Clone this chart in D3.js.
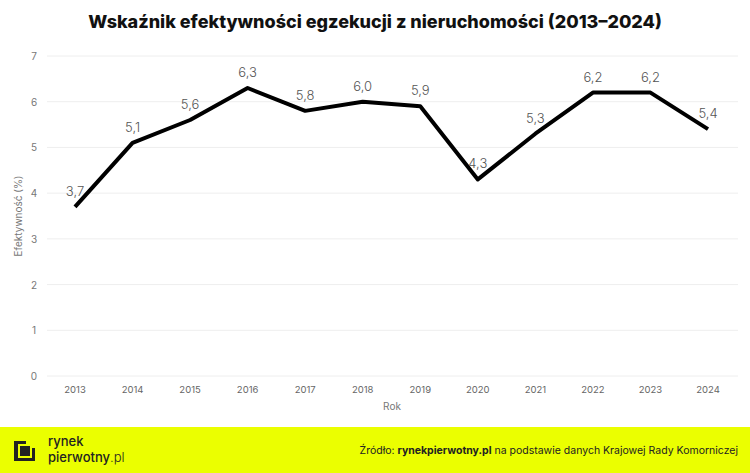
<!DOCTYPE html>
<html><head><meta charset="utf-8">
<script src="https://cdn.jsdelivr.net/npm/d3@7"></script>
<style>body{margin:0;background:#fff;font-family:Inter,"Open Sans",sans-serif}</style>
</head><body><div id="chart"></div>
<script>
const years = ["2013","2014","2015","2016","2017","2018","2019","2020","2021","2022","2023","2024"];
const values = [3.7, 5.1, 5.6, 6.3, 5.8, 6.0, 5.9, 4.3, 5.3, 6.2, 6.2, 5.4];
const yTicks = [0, 1, 2, 3, 4, 5, 6, 7];

const width = 750, height = 473;
const svg = d3.select("#chart").append("svg").attr("width", width).attr("height", height);

svg.append("text").attr("x", width / 2).attr("y", 28).attr("text-anchor", "middle")
  .attr("font-size", 18).attr("font-weight", 800).attr("fill", "#111")
  .text("Wskaźnik efektywności egzekucji z nieruchomości (2013–2024)");

const x = d3.scalePoint().domain(years).range([75, 708]);
const y = d3.scaleLinear().domain([0, 7]).range([376, 56]);

svg.append("g").selectAll("line").data(yTicks).join("line")
  .attr("x1", 47).attr("x2", 738).attr("y1", d => y(d)).attr("y2", d => y(d))
  .attr("stroke", "#eee");

svg.append("g").selectAll("text").data(yTicks).join("text")
  .attr("x", 34).attr("y", d => y(d) + 4).attr("text-anchor", "middle")
  .attr("font-size", 10).attr("fill", "#777").text(d => d);

svg.append("g").selectAll("text").data(years).join("text")
  .attr("x", d => x(d)).attr("y", 393).attr("text-anchor", "middle")
  .attr("font-size", 9.5).attr("fill", "#666").text(d => d);

svg.append("text").attr("x", 392).attr("y", 410).attr("text-anchor", "middle")
  .attr("font-size", 10).attr("fill", "#777").text("Rok");
svg.append("text").attr("transform", "translate(22,216) rotate(-90)").attr("text-anchor", "middle")
  .attr("font-size", 10).attr("fill", "#777").text("Efektywność (%)");

const line = d3.line().x((d, i) => x(years[i])).y(d => y(d));
svg.append("path").datum(values).attr("d", line).attr("fill", "none")
  .attr("stroke", "#000").attr("stroke-width", 4).attr("stroke-linejoin", "round");

svg.append("g").selectAll("text").data(values).join("text")
  .attr("x", (d, i) => x(years[i])).attr("y", d => y(d) - 11).attr("text-anchor", "middle")
  .attr("font-size", 13).attr("font-weight", 300).attr("fill", "#555").text(d => d.toFixed(1).replace(".", ","));

// footer
svg.append("rect").attr("x", 0).attr("y", 427).attr("width", width).attr("height", 46).attr("fill", "#ebff00");
svg.append("path").attr("d", "M14,441 L26,441 L26,444 L18,444 L18,458 L32,458 L32,448 L35,448 L35,461 L14,461 Z M20,446 L30,446 L30,456 L20,456 Z")
  .attr("fill", "#222").attr("fill-rule", "evenodd");
svg.append("text").attr("x", 48).attr("y", 446).attr("font-size", 13).attr("fill", "#222").attr("font-weight", 500).text("rynek");
const t2 = svg.append("text").attr("x", 48).attr("y", 462).attr("font-size", 13).attr("fill", "#222").attr("font-weight", 500);
t2.append("tspan").text("pierwotny");
t2.append("tspan").attr("font-weight", 300).text(".pl");
const src = svg.append("text").attr("x", 738).attr("y", 454).attr("text-anchor", "end").attr("font-size", 10.5).attr("fill", "#222");
src.append("tspan").text("Źródło: ");
src.append("tspan").attr("font-weight", 700).text("rynekpierwotny.pl");
src.append("tspan").text(" na podstawie danych Krajowej Rady Komorniczej");
</script></body></html>
